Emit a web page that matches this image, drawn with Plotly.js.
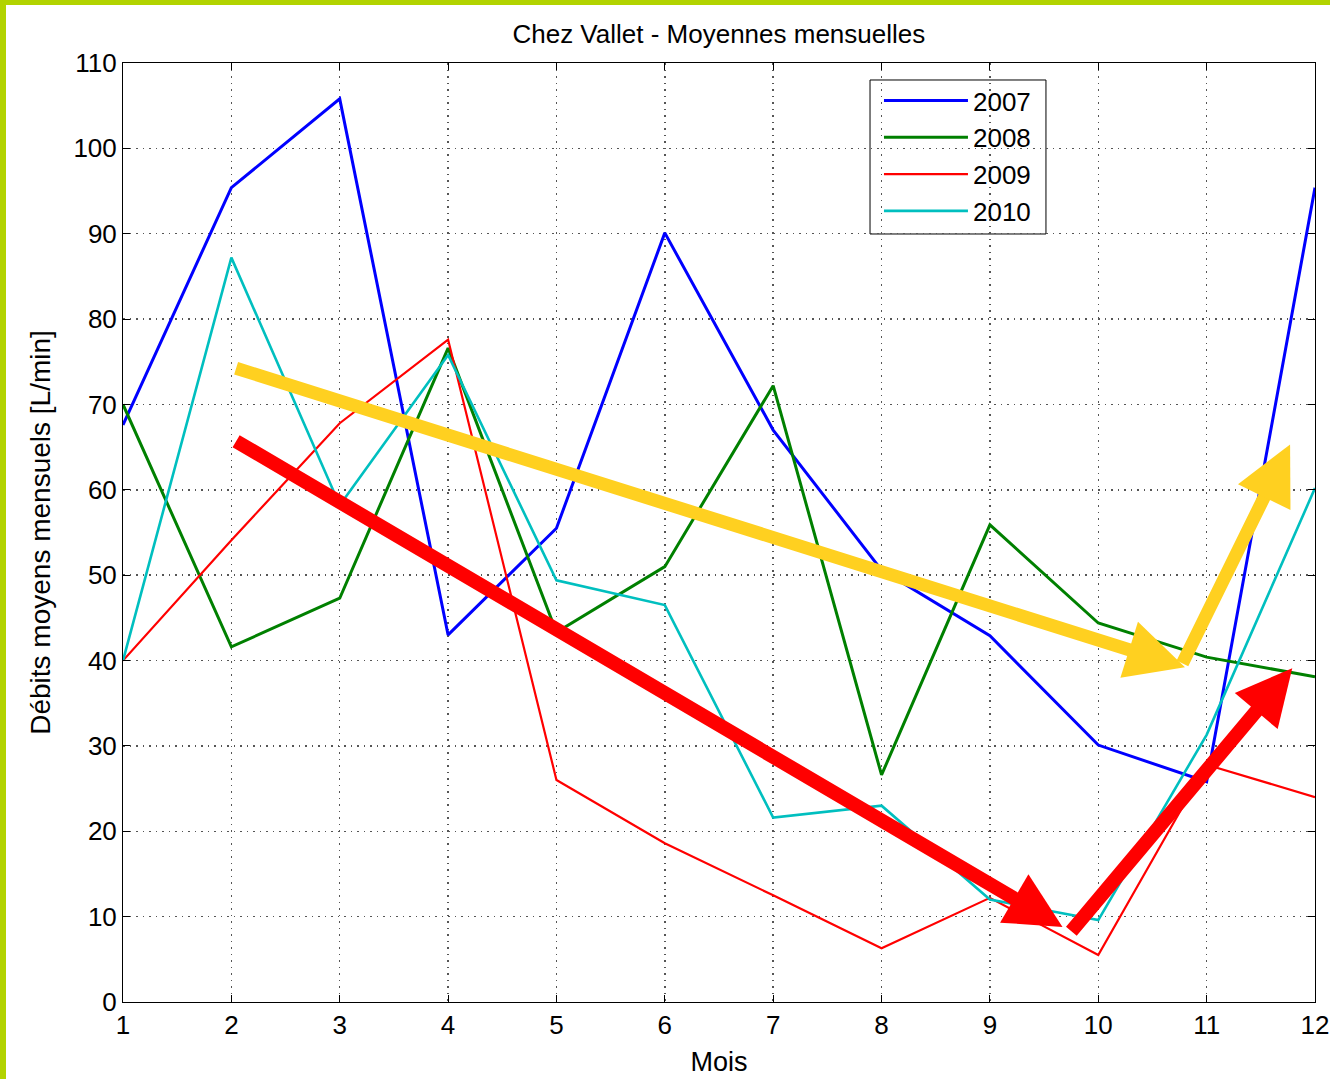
<!DOCTYPE html>
<html>
<head>
<meta charset="utf-8">
<script src="https://cdn.plot.ly/plotly-3.0.1.min.js"></script>
<style>
  html, body { margin: 0; padding: 0; background: #ffffff; }
  #chart { position: absolute; left: 0; top: 0; width: 1330px; height: 1079px; }
  .bandL { position: absolute; left: 0; top: 0; width: 6px; height: 1079px; background: #b2d300; }
  .bandT { position: absolute; left: 0; top: 0; width: 1330px; height: 5px; background: #b2d300; }
</style>
</head>
<body>
<div id="chart"></div>
<div class="bandL"></div>
<div class="bandT"></div>
<script>
// Months
const months = [1, 2, 3, 4, 5, 6, 7, 8, 9, 10, 11, 12];
// Monthly mean flow (L/min) per year
const y2007 = [67.6, 95.4, 105.8, 43.0, 55.5, 90.1, 67.0, 50.6, 42.9, 30.1, 25.8, 95.4];
const y2008 = [70.0, 41.6, 47.3, 76.6, 43.3, 51.0, 72.2, 26.6, 55.9, 44.4, 40.4, 38.1];
const y2009 = [40.0, 54.1, 67.8, 77.6, 26.0, 18.6, 12.5, 6.3, 12.2, 5.5, 27.8, 24.0];
const y2010 = [40.0, 87.2, 58.2, 75.8, 49.4, 46.5, 21.6, 23.0, 12.0, 9.6, 31.3, 60.2];
const seriesNames = ['2007', '2008', '2009', '2010'];

// Trend arrows drawn on the chart (data coordinates): tail -> tip
const arrowTailX = [2.03, 9.74, 2.03, 10.77];
const arrowTailY = [65.8, 8.1, 74.3, 39.5];
const arrowTipX  = [9.67, 11.79, 10.80, 11.77];
const arrowTipY  = [8.8, 39.1, 39.2, 65.3];
const arrowKind  = ['red', 'red', 'yellow', 'yellow'];

const colors = ['#0000ff', '#008000', '#ff0000', '#00bfbf'];
const widths = [3, 3, 2.2, 2.6];
const allY = [y2007, y2008, y2009, y2010];

const traces = allY.map((ys, i) => ({
  x: months, y: ys, type: 'scatter', mode: 'lines',
  name: seriesNames[i],
  line: { color: colors[i], width: widths[i] }
}));

const annotations = arrowTailX.map((tx, i) => ({
  x: arrowTipX[i], y: arrowTipY[i], xref: 'x', yref: 'y',
  ax: tx, ay: arrowTailY[i], axref: 'x', ayref: 'y',
  text: '', showarrow: true,
  arrowhead: 2,
  arrowsize: arrowKind[i] === 'red' ? 0.8 : 0.9,
  arrowwidth: arrowKind[i] === 'red' ? 14 : 13,
  arrowcolor: arrowKind[i] === 'red' ? '#ff0000' : '#ffd020'
}));

const font = { family: 'Liberation Sans, Arial, sans-serif', color: '#000000' };

const axisCommon = {
  showline: true, linecolor: '#000000', linewidth: 1,
  mirror: 'ticks', ticks: 'inside', ticklen: 7, tickcolor: '#000000',
  showgrid: true, gridcolor: '#555555', griddash: '1.5px,5px', gridwidth: 1.5,
  zeroline: false,
  tickfont: { family: font.family, size: 26, color: '#000' }
};

// legend frame (paper coordinates)
const legendBox = { x0: 0.6267, x1: 0.7743, y0: 0.8179, y1: 0.9819 };

const layout = {
  width: 1330, height: 1079,
  paper_bgcolor: '#ffffff', plot_bgcolor: '#ffffff',
  margin: { l: 123, r: 15, t: 63, b: 77 },
  font: font,
  title: { text: 'Chez Vallet - Moyennes mensuelles', font: { family: font.family, size: 26, color: '#000' },
           x: 0.5405, xanchor: 'center', y: 0.969, yanchor: 'middle' },
  xaxis: Object.assign({}, axisCommon, {
    range: [1, 12], tickmode: 'linear', tick0: 1, dtick: 1,
    title: { text: 'Mois', font: { family: font.family, size: 27, color: '#000' }, standoff: 12 }
  }),
  yaxis: Object.assign({}, axisCommon, {
    range: [0, 110], tickmode: 'linear', tick0: 0, dtick: 10,
    title: { text: 'Débits moyens mensuels [L/min]', font: { family: font.family, size: 28, color: '#000' }, standoff: 14 }
  }),
  showlegend: true,
  legend: {
    x: 0.6342, y: 0.985, xanchor: 'left', yanchor: 'top',
    bgcolor: 'rgba(0,0,0,0)', borderwidth: 0,
    font: { family: font.family, size: 26, color: '#000' },
    itemwidth: 84, tracegroupgap: 0
  },
  shapes: [{
    type: 'rect', xref: 'paper', yref: 'paper', layer: 'between',
    x0: legendBox.x0, x1: legendBox.x1, y0: legendBox.y0, y1: legendBox.y1,
    fillcolor: '#ffffff', line: { color: '#000000', width: 1 }
  }],
  annotations: annotations
};

Plotly.newPlot('chart', traces, layout, { displayModeBar: false, staticPlot: true });
</script>
</body>
</html>
